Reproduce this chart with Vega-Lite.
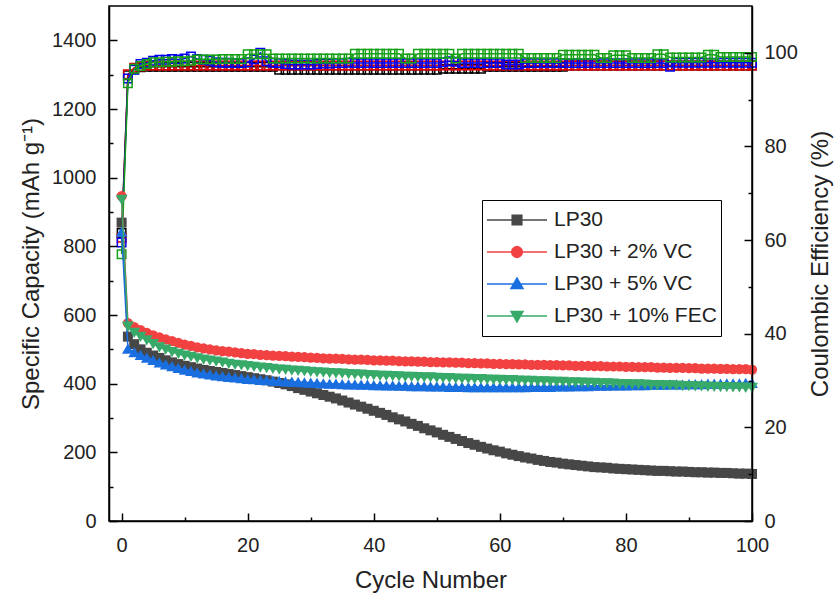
{
"$schema": "https://vega.github.io/schema/vega-lite/v6.json",
"width": 643, "height": 515,
"autosize": {"type": "none"},
"padding": {"left": 109, "top": 6, "right": 82, "bottom": 77},
"config": {
  "view": {"stroke": "#000", "strokeWidth": 1.5},
  "axis": {"grid": false, "zindex": 1, "domainColor": "#000", "domainWidth": 1.5, "tickColor": "#000", "tickWidth": 1.5, "labelFont": "Liberation Sans", "titleFont": "Liberation Sans", "labelColor": "#222", "titleColor": "#222", "titleFontWeight": "normal", "labelFontSize": 20, "titleFontSize": 24}
},
"datasets": {
"lp30": [
{"cycle":0,"cap":869,"ce":61.5},{"cycle":1,"cap":537,"ce":95.2},{"cycle":2,"cap":515,"ce":96.5},{"cycle":3,"cap":500,"ce":96.9},{"cycle":4,"cap":490,"ce":97.0},{"cycle":5,"cap":482,"ce":97.0},{"cycle":6,"cap":475,"ce":97.0},{"cycle":7,"cap":468,"ce":97.0},{"cycle":8,"cap":462,"ce":97.0},{"cycle":9,"cap":457,"ce":97.0},{"cycle":10,"cap":452,"ce":97.0},
{"cycle":11,"cap":448,"ce":97.0},{"cycle":12,"cap":444,"ce":97.0},{"cycle":13,"cap":440,"ce":97.0},{"cycle":14,"cap":437,"ce":97.0},{"cycle":15,"cap":434,"ce":97.0},{"cycle":16,"cap":431,"ce":97.0},{"cycle":17,"cap":428,"ce":97.0},{"cycle":18,"cap":425,"ce":97.0},{"cycle":19,"cap":422,"ce":97.0},{"cycle":20,"cap":419,"ce":97.0},
{"cycle":21,"cap":416,"ce":97.0},{"cycle":22,"cap":413,"ce":97.0},{"cycle":23,"cap":410,"ce":97.0},{"cycle":24,"cap":406,"ce":97.0},{"cycle":25,"cap":402,"ce":96.4},{"cycle":26,"cap":398,"ce":96.4},{"cycle":27,"cap":393,"ce":96.4},{"cycle":28,"cap":387,"ce":96.4},{"cycle":29,"cap":382,"ce":96.4},{"cycle":30,"cap":377,"ce":96.4},
{"cycle":31,"cap":372,"ce":96.4},{"cycle":32,"cap":367,"ce":96.4},{"cycle":33,"cap":362,"ce":96.4},{"cycle":34,"cap":357,"ce":96.4},{"cycle":35,"cap":351,"ce":96.4},{"cycle":36,"cap":345,"ce":96.4},{"cycle":37,"cap":339,"ce":96.4},{"cycle":38,"cap":333,"ce":96.4},{"cycle":39,"cap":327,"ce":96.4},{"cycle":40,"cap":321,"ce":96.4},
{"cycle":41,"cap":315,"ce":96.4},{"cycle":42,"cap":309,"ce":96.4},{"cycle":43,"cap":302,"ce":96.4},{"cycle":44,"cap":296,"ce":96.4},{"cycle":45,"cap":290,"ce":96.4},{"cycle":46,"cap":283,"ce":96.4},{"cycle":47,"cap":277,"ce":96.4},{"cycle":48,"cap":270,"ce":96.4},{"cycle":49,"cap":264,"ce":96.4},{"cycle":50,"cap":258,"ce":96.4},
{"cycle":51,"cap":251,"ce":96.6},{"cycle":52,"cap":245,"ce":96.6},{"cycle":53,"cap":239,"ce":96.6},{"cycle":54,"cap":233,"ce":96.6},{"cycle":55,"cap":227,"ce":96.6},{"cycle":56,"cap":222,"ce":96.6},{"cycle":57,"cap":216,"ce":96.6},{"cycle":58,"cap":211,"ce":97.0},{"cycle":59,"cap":206,"ce":97.0},{"cycle":60,"cap":202,"ce":97.0},
{"cycle":61,"cap":197,"ce":97.0},{"cycle":62,"cap":193,"ce":97.0},{"cycle":63,"cap":189,"ce":97.0},{"cycle":64,"cap":185,"ce":97.0},{"cycle":65,"cap":182,"ce":97.0},{"cycle":66,"cap":178,"ce":97.0},{"cycle":67,"cap":175,"ce":97.0},{"cycle":68,"cap":172,"ce":97.0},{"cycle":69,"cap":170,"ce":97.0},{"cycle":70,"cap":167,"ce":97.0},
{"cycle":71,"cap":165,"ce":97.3},{"cycle":72,"cap":163,"ce":97.3},{"cycle":73,"cap":161,"ce":97.3},{"cycle":74,"cap":159,"ce":97.3},{"cycle":75,"cap":157,"ce":97.3},{"cycle":76,"cap":156,"ce":97.3},{"cycle":77,"cap":155,"ce":97.3},{"cycle":78,"cap":153,"ce":97.3},{"cycle":79,"cap":152,"ce":97.3},{"cycle":80,"cap":151,"ce":97.3},
{"cycle":81,"cap":150,"ce":97.3},{"cycle":82,"cap":149,"ce":97.3},{"cycle":83,"cap":148,"ce":97.3},{"cycle":84,"cap":147,"ce":97.3},{"cycle":85,"cap":146,"ce":97.3},{"cycle":86,"cap":146,"ce":97.3},{"cycle":87,"cap":145,"ce":97.3},{"cycle":88,"cap":144,"ce":97.3},{"cycle":89,"cap":144,"ce":97.3},{"cycle":90,"cap":143,"ce":97.3},
{"cycle":91,"cap":142,"ce":97.3},{"cycle":92,"cap":142,"ce":97.3},{"cycle":93,"cap":141,"ce":97.3},{"cycle":94,"cap":141,"ce":97.3},{"cycle":95,"cap":140,"ce":97.3},{"cycle":96,"cap":140,"ce":97.3},{"cycle":97,"cap":139,"ce":97.3},{"cycle":98,"cap":138,"ce":97.3},{"cycle":99,"cap":138,"ce":97.3},{"cycle":100,"cap":137,"ce":97.3}
],
"vc2": [
{"cycle":0,"cap":946,"ce":60.5},{"cycle":1,"cap":576,"ce":95.4},{"cycle":2,"cap":565,"ce":96.8},{"cycle":3,"cap":556,"ce":97.1},{"cycle":4,"cap":548,"ce":97.3},{"cycle":5,"cap":541,"ce":97.3},{"cycle":6,"cap":535,"ce":97.3},{"cycle":7,"cap":529,"ce":97.3},{"cycle":8,"cap":524,"ce":97.3},{"cycle":9,"cap":519,"ce":97.3},{"cycle":10,"cap":514,"ce":97.3},
{"cycle":11,"cap":510,"ce":97.3},{"cycle":12,"cap":506,"ce":97.3},{"cycle":13,"cap":503,"ce":97.3},{"cycle":14,"cap":500,"ce":97.3},{"cycle":15,"cap":497,"ce":97.3},{"cycle":16,"cap":495,"ce":97.3},{"cycle":17,"cap":493,"ce":97.3},{"cycle":18,"cap":491,"ce":97.3},{"cycle":19,"cap":489,"ce":97.3},{"cycle":20,"cap":487,"ce":97.3},
{"cycle":21,"cap":486,"ce":97.3},{"cycle":22,"cap":484,"ce":97.3},{"cycle":23,"cap":483,"ce":97.3},{"cycle":24,"cap":482,"ce":97.3},{"cycle":25,"cap":481,"ce":97.3},{"cycle":26,"cap":480,"ce":97.3},{"cycle":27,"cap":479,"ce":97.3},{"cycle":28,"cap":478,"ce":97.3},{"cycle":29,"cap":477,"ce":97.3},{"cycle":30,"cap":476,"ce":97.3},
{"cycle":31,"cap":475,"ce":97.3},{"cycle":32,"cap":474,"ce":97.3},{"cycle":33,"cap":473,"ce":97.3},{"cycle":34,"cap":473,"ce":97.3},{"cycle":35,"cap":472,"ce":97.3},{"cycle":36,"cap":471,"ce":97.3},{"cycle":37,"cap":470,"ce":97.3},{"cycle":38,"cap":470,"ce":97.3},{"cycle":39,"cap":469,"ce":97.3},{"cycle":40,"cap":468,"ce":97.3},
{"cycle":41,"cap":468,"ce":97.3},{"cycle":42,"cap":467,"ce":97.3},{"cycle":43,"cap":467,"ce":97.3},{"cycle":44,"cap":466,"ce":97.3},{"cycle":45,"cap":465,"ce":97.3},{"cycle":46,"cap":465,"ce":97.3},{"cycle":47,"cap":464,"ce":97.3},{"cycle":48,"cap":464,"ce":97.3},{"cycle":49,"cap":463,"ce":97.3},{"cycle":50,"cap":463,"ce":97.3},
{"cycle":51,"cap":462,"ce":97.3},{"cycle":52,"cap":462,"ce":97.3},{"cycle":53,"cap":461,"ce":97.3},{"cycle":54,"cap":461,"ce":97.3},{"cycle":55,"cap":460,"ce":97.3},{"cycle":56,"cap":460,"ce":97.3},{"cycle":57,"cap":459,"ce":97.3},{"cycle":58,"cap":459,"ce":97.3},{"cycle":59,"cap":458,"ce":97.3},{"cycle":60,"cap":458,"ce":97.3},
{"cycle":61,"cap":457,"ce":97.3},{"cycle":62,"cap":457,"ce":97.3},{"cycle":63,"cap":456,"ce":97.3},{"cycle":64,"cap":456,"ce":97.3},{"cycle":65,"cap":455,"ce":97.3},{"cycle":66,"cap":455,"ce":97.3},{"cycle":67,"cap":455,"ce":97.3},{"cycle":68,"cap":454,"ce":97.3},{"cycle":69,"cap":454,"ce":97.3},{"cycle":70,"cap":453,"ce":97.3},
{"cycle":71,"cap":453,"ce":97.3},{"cycle":72,"cap":452,"ce":97.3},{"cycle":73,"cap":452,"ce":97.3},{"cycle":74,"cap":452,"ce":97.3},{"cycle":75,"cap":451,"ce":97.3},{"cycle":76,"cap":451,"ce":97.3},{"cycle":77,"cap":450,"ce":97.3},{"cycle":78,"cap":450,"ce":97.3},{"cycle":79,"cap":450,"ce":97.3},{"cycle":80,"cap":449,"ce":97.3},
{"cycle":81,"cap":449,"ce":97.3},{"cycle":82,"cap":448,"ce":97.3},{"cycle":83,"cap":448,"ce":97.3},{"cycle":84,"cap":448,"ce":97.3},{"cycle":85,"cap":447,"ce":97.3},{"cycle":86,"cap":447,"ce":97.3},{"cycle":87,"cap":446,"ce":97.3},{"cycle":88,"cap":446,"ce":97.3},{"cycle":89,"cap":446,"ce":97.3},{"cycle":90,"cap":445,"ce":97.3},
{"cycle":91,"cap":445,"ce":97.3},{"cycle":92,"cap":444,"ce":97.3},{"cycle":93,"cap":444,"ce":97.3},{"cycle":94,"cap":444,"ce":97.3},{"cycle":95,"cap":443,"ce":97.3},{"cycle":96,"cap":443,"ce":97.3},{"cycle":97,"cap":442,"ce":97.3},{"cycle":98,"cap":442,"ce":97.3},{"cycle":99,"cap":442,"ce":97.3},{"cycle":100,"cap":441,"ce":97.3}
],
"vc5": [
{"cycle":0,"cap":843,"ce":59.5},{"cycle":1,"cap":502,"ce":94.5},{"cycle":2,"cap":492,"ce":96.4},{"cycle":3,"cap":484,"ce":97.6},{"cycle":4,"cap":476,"ce":97.9},{"cycle":5,"cap":469,"ce":98.3},{"cycle":6,"cap":462,"ce":98.5},{"cycle":7,"cap":456,"ce":98.5},{"cycle":8,"cap":451,"ce":98.7},{"cycle":9,"cap":446,"ce":98.6},{"cycle":10,"cap":441,"ce":98.8},
{"cycle":11,"cap":437,"ce":99.2},{"cycle":12,"cap":433,"ce":98.7},{"cycle":13,"cap":430,"ce":98.5},{"cycle":14,"cap":427,"ce":98.3},{"cycle":15,"cap":424,"ce":98.0},{"cycle":16,"cap":422,"ce":97.9},{"cycle":17,"cap":420,"ce":97.9},{"cycle":18,"cap":418,"ce":97.8},{"cycle":19,"cap":416,"ce":97.8},{"cycle":20,"cap":414,"ce":98.0},
{"cycle":21,"cap":413,"ce":98.6},{"cycle":22,"cap":411,"ce":100.0},{"cycle":23,"cap":410,"ce":98.2},{"cycle":24,"cap":409,"ce":97.9},{"cycle":25,"cap":408,"ce":97.8},{"cycle":26,"cap":407,"ce":97.6},{"cycle":27,"cap":406,"ce":97.5},{"cycle":28,"cap":405,"ce":97.5},{"cycle":29,"cap":404,"ce":97.5},{"cycle":30,"cap":403,"ce":97.5},
{"cycle":31,"cap":402,"ce":97.6},{"cycle":32,"cap":401,"ce":97.7},{"cycle":33,"cap":400,"ce":97.7},{"cycle":34,"cap":400,"ce":97.8},{"cycle":35,"cap":399,"ce":97.8},{"cycle":36,"cap":398,"ce":97.9},{"cycle":37,"cap":398,"ce":97.8},{"cycle":38,"cap":397,"ce":97.8},{"cycle":39,"cap":397,"ce":97.8},{"cycle":40,"cap":396,"ce":97.8},
{"cycle":41,"cap":396,"ce":97.8},{"cycle":42,"cap":395,"ce":97.8},{"cycle":43,"cap":395,"ce":97.8},{"cycle":44,"cap":394,"ce":97.8},{"cycle":45,"cap":394,"ce":97.8},{"cycle":46,"cap":393,"ce":97.8},{"cycle":47,"cap":393,"ce":97.8},{"cycle":48,"cap":393,"ce":97.8},{"cycle":49,"cap":392,"ce":97.8},{"cycle":50,"cap":392,"ce":97.8},
{"cycle":51,"cap":392,"ce":98.0},{"cycle":52,"cap":391,"ce":98.2},{"cycle":53,"cap":391,"ce":98.1},{"cycle":54,"cap":391,"ce":97.8},{"cycle":55,"cap":390,"ce":97.8},{"cycle":56,"cap":390,"ce":97.8},{"cycle":57,"cap":390,"ce":97.8},{"cycle":58,"cap":390,"ce":97.8},{"cycle":59,"cap":390,"ce":97.8},{"cycle":60,"cap":390,"ce":97.8},
{"cycle":61,"cap":390,"ce":97.5},{"cycle":62,"cap":390,"ce":97.5},{"cycle":63,"cap":390,"ce":97.5},{"cycle":64,"cap":390,"ce":97.8},{"cycle":65,"cap":391,"ce":97.8},{"cycle":66,"cap":391,"ce":97.8},{"cycle":67,"cap":391,"ce":97.8},{"cycle":68,"cap":391,"ce":97.8},{"cycle":69,"cap":392,"ce":97.8},{"cycle":70,"cap":392,"ce":97.8},
{"cycle":71,"cap":392,"ce":97.8},{"cycle":72,"cap":393,"ce":97.8},{"cycle":73,"cap":393,"ce":97.8},{"cycle":74,"cap":393,"ce":97.8},{"cycle":75,"cap":394,"ce":97.8},{"cycle":76,"cap":394,"ce":97.8},{"cycle":77,"cap":394,"ce":97.8},{"cycle":78,"cap":395,"ce":97.8},{"cycle":79,"cap":395,"ce":97.8},{"cycle":80,"cap":395,"ce":97.8},
{"cycle":81,"cap":396,"ce":97.8},{"cycle":82,"cap":396,"ce":97.8},{"cycle":83,"cap":396,"ce":97.8},{"cycle":84,"cap":397,"ce":97.8},{"cycle":85,"cap":397,"ce":97.8},{"cycle":86,"cap":397,"ce":97.8},{"cycle":87,"cap":398,"ce":97.0},{"cycle":88,"cap":398,"ce":97.9},{"cycle":89,"cap":398,"ce":97.9},{"cycle":90,"cap":399,"ce":97.9},
{"cycle":91,"cap":399,"ce":97.9},{"cycle":92,"cap":399,"ce":97.9},{"cycle":93,"cap":400,"ce":97.9},{"cycle":94,"cap":400,"ce":97.9},{"cycle":95,"cap":400,"ce":97.9},{"cycle":96,"cap":401,"ce":97.9},{"cycle":97,"cap":401,"ce":97.9},{"cycle":98,"cap":401,"ce":97.9},{"cycle":99,"cap":402,"ce":97.9},{"cycle":100,"cap":402,"ce":97.9}
],
"fec10": [
{"cycle":0,"cap":935,"ce":57.0},{"cycle":1,"cap":566,"ce":93.5},{"cycle":2,"cap":548,"ce":96.6},{"cycle":3,"cap":536,"ce":97.2},{"cycle":4,"cap":526,"ce":97.6},{"cycle":5,"cap":515,"ce":98.0},{"cycle":6,"cap":506,"ce":98.0},{"cycle":7,"cap":499,"ce":98.1},{"cycle":8,"cap":492,"ce":98.1},{"cycle":9,"cap":487,"ce":98.2},{"cycle":10,"cap":482,"ce":98.2},
{"cycle":11,"cap":478,"ce":98.3},{"cycle":12,"cap":474,"ce":98.6},{"cycle":13,"cap":470,"ce":98.6},{"cycle":14,"cap":467,"ce":98.6},{"cycle":15,"cap":464,"ce":98.6},{"cycle":16,"cap":461,"ce":98.7},{"cycle":17,"cap":458,"ce":98.7},{"cycle":18,"cap":455,"ce":98.7},{"cycle":19,"cap":453,"ce":98.7},{"cycle":20,"cap":451,"ce":99.7},
{"cycle":21,"cap":449,"ce":99.7},{"cycle":22,"cap":447,"ce":99.7},{"cycle":23,"cap":445,"ce":99.7},{"cycle":24,"cap":443,"ce":98.8},{"cycle":25,"cap":441,"ce":98.8},{"cycle":26,"cap":440,"ce":98.8},{"cycle":27,"cap":438,"ce":98.8},{"cycle":28,"cap":437,"ce":98.8},{"cycle":29,"cap":436,"ce":98.8},{"cycle":30,"cap":434,"ce":98.8},
{"cycle":31,"cap":433,"ce":98.8},{"cycle":32,"cap":432,"ce":98.8},{"cycle":33,"cap":431,"ce":98.8},{"cycle":34,"cap":430,"ce":98.8},{"cycle":35,"cap":429,"ce":98.8},{"cycle":36,"cap":428,"ce":98.8},{"cycle":37,"cap":427,"ce":99.8},{"cycle":38,"cap":426,"ce":99.8},{"cycle":39,"cap":425,"ce":99.8},{"cycle":40,"cap":424,"ce":99.8},
{"cycle":41,"cap":423,"ce":99.8},{"cycle":42,"cap":423,"ce":99.8},{"cycle":43,"cap":422,"ce":99.8},{"cycle":44,"cap":421,"ce":99.8},{"cycle":45,"cap":420,"ce":98.8},{"cycle":46,"cap":420,"ce":98.8},{"cycle":47,"cap":419,"ce":99.8},{"cycle":48,"cap":418,"ce":99.8},{"cycle":49,"cap":418,"ce":99.8},{"cycle":50,"cap":417,"ce":99.8},
{"cycle":51,"cap":416,"ce":99.8},{"cycle":52,"cap":416,"ce":99.8},{"cycle":53,"cap":415,"ce":98.8},{"cycle":54,"cap":414,"ce":99.8},{"cycle":55,"cap":414,"ce":99.8},{"cycle":56,"cap":413,"ce":99.8},{"cycle":57,"cap":413,"ce":99.8},{"cycle":58,"cap":412,"ce":99.8},{"cycle":59,"cap":411,"ce":99.8},{"cycle":60,"cap":411,"ce":99.8},
{"cycle":61,"cap":410,"ce":99.8},{"cycle":62,"cap":410,"ce":99.8},{"cycle":63,"cap":409,"ce":99.8},{"cycle":64,"cap":408,"ce":98.9},{"cycle":65,"cap":408,"ce":98.9},{"cycle":66,"cap":407,"ce":98.9},{"cycle":67,"cap":407,"ce":98.9},{"cycle":68,"cap":406,"ce":98.9},{"cycle":69,"cap":405,"ce":98.9},{"cycle":70,"cap":405,"ce":99.6},
{"cycle":71,"cap":404,"ce":99.6},{"cycle":72,"cap":404,"ce":99.6},{"cycle":73,"cap":403,"ce":99.6},{"cycle":74,"cap":402,"ce":99.6},{"cycle":75,"cap":402,"ce":99.6},{"cycle":76,"cap":401,"ce":98.9},{"cycle":77,"cap":401,"ce":98.9},{"cycle":78,"cap":400,"ce":99.5},{"cycle":79,"cap":399,"ce":99.5},{"cycle":80,"cap":399,"ce":99.5},
{"cycle":81,"cap":398,"ce":98.9},{"cycle":82,"cap":398,"ce":98.9},{"cycle":83,"cap":397,"ce":98.9},{"cycle":84,"cap":396,"ce":98.9},{"cycle":85,"cap":396,"ce":99.7},{"cycle":86,"cap":395,"ce":99.7},{"cycle":87,"cap":395,"ce":99.0},{"cycle":88,"cap":394,"ce":99.0},{"cycle":89,"cap":393,"ce":99.0},{"cycle":90,"cap":393,"ce":99.0},
{"cycle":91,"cap":392,"ce":99.0},{"cycle":92,"cap":392,"ce":99.0},{"cycle":93,"cap":391,"ce":99.6},{"cycle":94,"cap":391,"ce":99.6},{"cycle":95,"cap":390,"ce":99.1},{"cycle":96,"cap":390,"ce":99.1},{"cycle":97,"cap":389,"ce":99.1},{"cycle":98,"cap":389,"ce":99.1},{"cycle":99,"cap":388,"ce":99.1},{"cycle":100,"cap":388,"ce":99.1}
]
},
"layer": [
{
  "encoding": {
    "x": {"field": "cycle", "type": "quantitative", "scale": {"domain": [-2, 100], "nice": false, "zero": false},
      "axis": {"title": "Cycle Number", "values": [0,10,20,30,40,50,60,70,80,90,100], "labelExpr": "datum.value % 20 === 0 ? datum.label : ''", "tickSize": {"condition": {"test": "datum.value % 20 === 0", "value": -8}, "value": -4}, "labelPadding": 22, "labelFlush": false, "titleY": 47, "zindex": 1}},
    "y": {"field": "ce", "type": "quantitative", "scale": {"domain": [0, 110], "nice": false},
      "axis": {"orient": "right", "title": "Coulombic Efficiency (%)", "values": [0,10,20,30,40,50,60,70,80,90,100], "labelExpr": "datum.value % 20 === 0 ? datum.label : ''", "tickSize": {"condition": {"test": "datum.value % 20 === 0", "value": -8}, "value": -4}, "labelPadding": 20, "titleAngle": 270, "titleBaseline": "top", "titleX": 56, "zindex": 1}}
  },
  "layer": [
    {"data": {"name": "lp30"}, "mark": {"type": "line", "color": "#000000", "strokeWidth": 1.5, "point": {"shape": "square", "filled": false, "size": 72, "strokeWidth": 1.5, "color": "#000000", "opacity": 1}}},
    {"data": {"name": "vc2"}, "mark": {"type": "line", "color": "#e00000", "strokeWidth": 1.5, "point": {"shape": "square", "filled": false, "size": 72, "strokeWidth": 1.5, "color": "#e00000", "opacity": 1}}},
    {"data": {"name": "vc5"}, "mark": {"type": "line", "color": "#0000f0", "strokeWidth": 1.5, "point": {"shape": "square", "filled": false, "size": 72, "strokeWidth": 1.5, "color": "#0000f0", "opacity": 1}}},
    {"data": {"name": "fec10"}, "mark": {"type": "line", "color": "#16a016", "strokeWidth": 1.5, "point": {"shape": "square", "filled": false, "size": 72, "strokeWidth": 1.5, "color": "#16a016", "opacity": 1}}}
  ]
},
{
  "encoding": {
    "x": {"field": "cycle", "type": "quantitative", "scale": {"domain": [-2, 100], "nice": false, "zero": false},
      "axis": {"title": "Cycle Number", "values": [0,10,20,30,40,50,60,70,80,90,100], "labelExpr": "datum.value % 20 === 0 ? datum.label : ''", "tickSize": {"condition": {"test": "datum.value % 20 === 0", "value": -8}, "value": -4}, "labelPadding": 22, "labelFlush": false, "titleY": 47, "zindex": 1}},
    "y": {"field": "cap", "type": "quantitative", "scale": {"domain": [0, 1500], "nice": false},
      "axis": {"orient": "left", "title": "Specific Capacity (mAh g⁻¹)", "format": "d", "values": [0,100,200,300,400,500,600,700,800,900,1000,1100,1200,1300,1400], "labelExpr": "datum.value % 200 === 0 ? datum.label : ''", "tickSize": {"condition": {"test": "datum.value % 200 === 0", "value": -8}, "value": -4}, "labelPadding": 21, "titleX": -66, "zindex": 1}}
  },
  "layer": [
    {"data": {"name": "lp30"}, "mark": {"type": "line", "color": "#474747", "strokeWidth": 1.5, "point": {"shape": "square", "filled": true, "size": 100, "color": "#474747", "opacity": 1}}},
    {"data": {"name": "vc2"}, "mark": {"type": "line", "color": "#f24141", "strokeWidth": 1.5, "point": {"shape": "circle", "filled": true, "size": 105, "color": "#f24141", "opacity": 1}}},
    {"data": {"name": "vc5"}, "mark": {"type": "line", "color": "#1a6fe0", "strokeWidth": 1.5, "point": {"shape": "triangle-up", "filled": true, "size": 140, "color": "#1a6fe0", "opacity": 1}}},
    {"data": {"name": "fec10"}, "mark": {"type": "line", "color": "#37aa69", "strokeWidth": 1.5, "point": {"shape": "triangle-down", "filled": true, "size": 140, "color": "#37aa69", "opacity": 1}}}
  ]
},
{"data": {"values": []}, "mark": {"type": "point", "filled": true, "opacity": 1, "strokeWidth": 1.5},
 "encoding": {
  "fill": {"field": "series", "type": "nominal",
    "scale": {"domain": ["LP30", "LP30 + 2% VC", "LP30 + 5% VC", "LP30 + 10% FEC"], "range": ["#474747", "#f24141", "#1a6fe0", "#37aa69"]},
    "legend": {"title": null, "orient": "none", "legendX": 373, "legendY": 194, "padding": 4, "strokeColor": "#000", "fillColor": "#fff", "symbolSize": 3600, "clipHeight": 32, "rowPadding": 0, "labelFont": "Liberation Sans", "labelFontSize": 21, "labelLimit": 300, "labelColor": "#222", "labelOffset": 6, "symbolStrokeWidth": 1.5, "symbolFillColor": "#fff"}},
  "stroke": {"field": "series", "type": "nominal",
    "scale": {"domain": ["LP30", "LP30 + 2% VC", "LP30 + 5% VC", "LP30 + 10% FEC"], "range": ["#474747", "#f24141", "#1a6fe0", "#37aa69"]},
    "legend": {"title": null, "orient": "none", "legendX": 373, "legendY": 194, "padding": 4, "strokeColor": "#000", "fillColor": "#fff", "symbolSize": 3600, "clipHeight": 32, "rowPadding": 0, "labelFont": "Liberation Sans", "labelFontSize": 21, "labelLimit": 300, "labelColor": "#222", "labelOffset": 6, "symbolStrokeWidth": 1.5, "symbolFillColor": "#fff"}},
  "shape": {"field": "series", "type": "nominal",
    "scale": {"domain": ["LP30", "LP30 + 2% VC", "LP30 + 5% VC", "LP30 + 10% FEC"], "range": ["M-1,0H1M-0.16,-0.16H0.16V0.16H-0.16Z", "M-1,0H1M0.18,0L0.156,0.09L0.09,0.156L0,0.18L-0.09,0.156L-0.156,0.09L-0.18,0L-0.156,-0.09L-0.09,-0.156L0,-0.18L0.09,-0.156L0.156,-0.09Z", "M-1,0H1M0,-0.2L0.2,0.15L-0.2,0.15Z", "M-1,0H1M0,0.2L0.2,-0.15L-0.2,-0.15Z"]},
    "legend": {"title": null, "orient": "none", "legendX": 373, "legendY": 194, "padding": 4, "strokeColor": "#000", "fillColor": "#fff", "symbolSize": 3600, "clipHeight": 32, "rowPadding": 0, "labelFont": "Liberation Sans", "labelFontSize": 21, "labelLimit": 300, "labelColor": "#222", "labelOffset": 6, "symbolStrokeWidth": 1.5, "symbolFillColor": "#fff"}}
 }}
],
"resolve": {"scale": {"y": "independent"}}
}
